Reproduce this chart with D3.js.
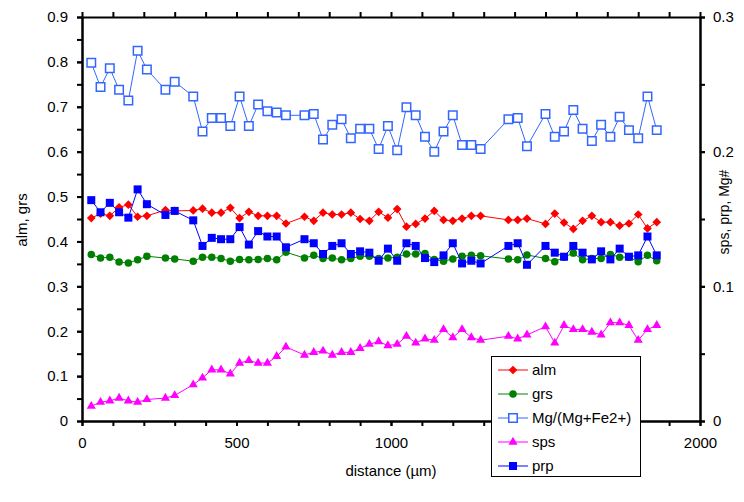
<html>
<head>
<script src="https://d3js.org/d3.v7.min.js" charset="utf-8"></script>
<style>
    body { margin: 0; background: #fff; }
    text { font-family: "Liberation Sans", Arial, sans-serif; }
</style>
</head>
<body>
<script>
// distance along the traverse (µm)
const distance = [30,60,90,120,150,180,210,270,300,360,390,420,450,480,510,540,570,600,630,660,
                  720,750,780,810,840,870,900,930,960,990,1020,1050,1080,1110,1140,1170,1200,1230,1260,1290,
                  1380,1410,1440,1500,1530,1560,1590,1620,1650,1680,1710,1740,1770,1800,1830,1860];

// left axis series
const alm = [0.452,0.462,0.457,0.476,0.482,0.455,0.457,0.470,0.468,0.469,
             0.473,0.464,0.464,0.475,0.452,0.466,0.457,0.457,0.457,0.440,
             0.455,0.446,0.464,0.460,0.460,0.464,0.450,0.446,0.466,0.453,
             0.472,0.433,0.439,0.451,0.468,0.448,0.446,0.451,0.457,0.457,
             0.448,0.448,0.451,0.439,0.462,0.442,0.428,0.446,0.457,0.443,
             0.443,0.435,0.440,0.460,0.429,0.443];
const grs = [0.371,0.363,0.365,0.354,0.352,0.359,0.367,0.363,0.361,0.356,
             0.365,0.365,0.362,0.356,0.360,0.359,0.360,0.362,0.359,0.376,
             0.363,0.369,0.362,0.363,0.359,0.362,0.367,0.367,0.362,0.363,
             0.365,0.372,0.372,0.373,0.360,0.356,0.361,0.367,0.369,0.368,
             0.361,0.359,0.370,0.362,0.355,0.365,0.374,0.359,0.362,0.362,
             0.371,0.365,0.365,0.355,0.369,0.357];

// right axis series
const mgNum = [0.266,0.248,0.262,0.246,0.238,0.275,0.261,0.246,0.252,0.241,
               0.215,0.225,0.225,0.219,0.241,0.219,0.235,0.230,0.229,0.227,
               0.227,0.228,0.209,0.220,0.224,0.210,0.217,0.217,0.202,0.219,
               0.201,0.233,0.227,0.211,0.200,0.215,0.227,0.205,0.205,0.202,
               0.224,0.225,0.204,0.228,0.211,0.215,0.231,0.217,0.208,0.220,
               0.211,0.226,0.216,0.210,0.241,0.216];
const sps = [0.011,0.014,0.015,0.017,0.015,0.014,0.016,0.017,0.019,0.027,
             0.032,0.038,0.038,0.035,0.043,0.045,0.043,0.043,0.048,0.055,
             0.049,0.051,0.052,0.049,0.051,0.051,0.054,0.057,0.059,0.056,
             0.057,0.063,0.058,0.061,0.060,0.068,0.062,0.068,0.062,0.060,
             0.063,0.061,0.064,0.070,0.058,0.071,0.068,0.068,0.066,0.064,
             0.073,0.073,0.071,0.060,0.068,0.071];
const prp = [0.164,0.155,0.162,0.155,0.151,0.172,0.161,0.153,0.156,0.149,
             0.130,0.136,0.135,0.135,0.144,0.131,0.141,0.137,0.137,0.129,
             0.135,0.132,0.124,0.130,0.132,0.124,0.126,0.125,0.119,0.128,
             0.119,0.132,0.130,0.121,0.118,0.123,0.132,0.117,0.119,0.117,
             0.130,0.132,0.116,0.130,0.125,0.122,0.130,0.125,0.120,0.126,
             0.120,0.128,0.122,0.123,0.137,0.123];

// the 1500 label sits under the legend box, so it is not drawn
const xTicks = [0,500,1000,2000];
const leftTicks = [0,0.1,0.2,0.3,0.4,0.5,0.6,0.7,0.8,0.9];
const rightTicks = [0,0.1,0.2,0.3];
const legendNames = ['alm','grs','Mg/(Mg+Fe2+)','sps','prp'];

const w = 744, h = 502;
const padL = 82, padR = 700, padT = 17, padB = 421;

const svg = d3.select('body').append('svg')
    .attr('width', w)
    .attr('height', h);

const xScale = d3.scaleLinear().domain([0,2000]).range([padL,padR]);
const yLeft = d3.scaleLinear().domain([0,0.9]).range([padB,padT]);
const yRight = d3.scaleLinear().domain([0,0.3]).range([padB,padT]);

const fmt = (d) => d === 0 ? '0' : d3.format('.1f')(d);

function styleAxis(g){
    g.select('.domain').attr('stroke','#000').attr('stroke-width',2);
    g.selectAll('.tick line').attr('stroke','#000').attr('stroke-width',2);
    g.selectAll('.tick text').attr('fill','#000').style('font-size','15px');
}

// minor ticks first, then major with labels
svg.append('g')
    .attr('transform','translate(0,'+padB+')')
    .call(d3.axisBottom(xScale).tickValues(d3.range(0,21).map(i=>i*100)).tickFormat('').tickSize(5).tickSizeOuter(0))
    .call(styleAxis);
svg.append('g')
    .attr('transform','translate(0,'+padB+')')
    .call(d3.axisBottom(xScale).tickValues(xTicks).tickFormat(d3.format('d')).tickSize(5).tickPadding(11).tickSizeOuter(0))
    .call(styleAxis);

svg.append('g')
    .attr('transform','translate(0,'+padT+')')
    .call(d3.axisTop(xScale).tickValues(d3.range(0,21).map(i=>i*100)).tickFormat('').tickSize(5).tickSizeOuter(0))
    .call(styleAxis);

svg.append('g')
    .attr('transform','translate('+padL+',0)')
    .call(d3.axisLeft(yLeft).tickValues(d3.range(0,19).map(i=>i*0.05)).tickFormat('').tickSize(5).tickSizeOuter(0))
    .call(styleAxis);
svg.append('g')
    .attr('transform','translate('+padL+',0)')
    .call(d3.axisLeft(yLeft).tickValues(leftTicks).tickFormat(fmt).tickSize(5).tickPadding(9).tickSizeOuter(0))
    .call(styleAxis);

svg.append('g')
    .attr('transform','translate('+padR+',0)')
    .call(d3.axisRight(yRight).tickValues(d3.range(0,7).map(i=>i*0.05)).tickFormat('').tickSize(5).tickSizeOuter(0))
    .call(styleAxis);
svg.append('g')
    .attr('transform','translate('+padR+',0)')
    .call(d3.axisRight(yRight).tickValues(rightTicks).tickFormat(fmt).tickSize(5).tickPadding(8).tickSizeOuter(0))
    .call(styleAxis);

// axis titles
svg.append('text')
    .attr('x',(padL+padR)/2)
    .attr('y',476)
    .attr('text-anchor','middle')
    .style('font-size','15px')
    .text('distance (µm)');

svg.append('text')
    .attr('transform','translate(27,220) rotate(-90)')
    .attr('text-anchor','middle')
    .style('font-size','15px')
    .text('alm, grs');

svg.append('text')
    .attr('transform','translate(729,212) rotate(-90)')
    .attr('text-anchor','middle')
    .style('font-size','14px')
    .text('sps, prp, Mg#');

// series
const series = [
    {name:legendNames[0], values:alm, y:yLeft, color:'#ff0000', symbol:d3.symbolSquare, size:38, rotate:45, fill:'#ff0000'},
    {name:legendNames[1], values:grs, y:yLeft, color:'#008000', symbol:d3.symbolCircle, size:44, rotate:0, fill:'#008000'},
    {name:legendNames[2], values:mgNum, y:yRight, color:'#3366ff', symbol:d3.symbolSquare, size:72, rotate:0, fill:'#ffffff'},
    {name:legendNames[3], values:sps, y:yRight, color:'#ff00ff', symbol:d3.symbolTriangle, size:36, rotate:0, fill:'#ff00ff'},
    {name:legendNames[4], values:prp, y:yRight, color:'#0000ff', symbol:d3.symbolSquare, size:64, rotate:0, fill:'#0000ff'}
];

series.forEach(function(s){
    const pts = distance.map((d,i)=>[d, s.values[i]]);
    const line = d3.line().x(d=>xScale(d[0])).y(d=>s.y(d[1]));
    svg.append('path')
        .datum(pts)
        .attr('d',line)
        .attr('fill','none')
        .attr('stroke',s.color)
        .attr('stroke-width',1);
    svg.append('g').selectAll('path')
        .data(pts)
        .enter()
        .append('path')
        .attr('d',d3.symbol().type(s.symbol).size(s.size))
        .attr('transform',d=>'translate('+xScale(d[0])+','+s.y(d[1])+') rotate('+s.rotate+')')
        .attr('fill',s.fill)
        .attr('stroke',s.fill === '#ffffff' ? s.color : 'none')
        .attr('stroke-width',1.5);
});

// legend
const legend = svg.append('g').attr('id','legend');
legend.append('rect')
    .attr('x',491.5)
    .attr('y',356.5)
    .attr('width',149)
    .attr('height',120)
    .attr('fill','#fff')
    .attr('stroke','#000')
    .attr('stroke-width',1);

const item = legend.selectAll('.item')
    .data(series)
    .enter()
    .append('g')
    .attr('transform',(d,i)=>'translate(0,'+(370+i*24)+')');
item.append('line')
    .attr('x1',498).attr('x2',528)
    .attr('stroke',d=>d.color)
    .attr('stroke-width',1);
item.append('path')
    .attr('d',d=>d3.symbol().type(d.symbol).size(d.size)())
    .attr('transform',d=>'translate(513,0) rotate('+d.rotate+')')
    .attr('fill',d=>d.fill)
    .attr('stroke',d=>d.fill === '#ffffff' ? d.color : 'none')
    .attr('stroke-width',1.5);
item.append('text')
    .attr('x',532)
    .attr('dy','0.35em')
    .style('font-size','15px')
    .text(d=>d.name);
</script>
</body>
</html>
